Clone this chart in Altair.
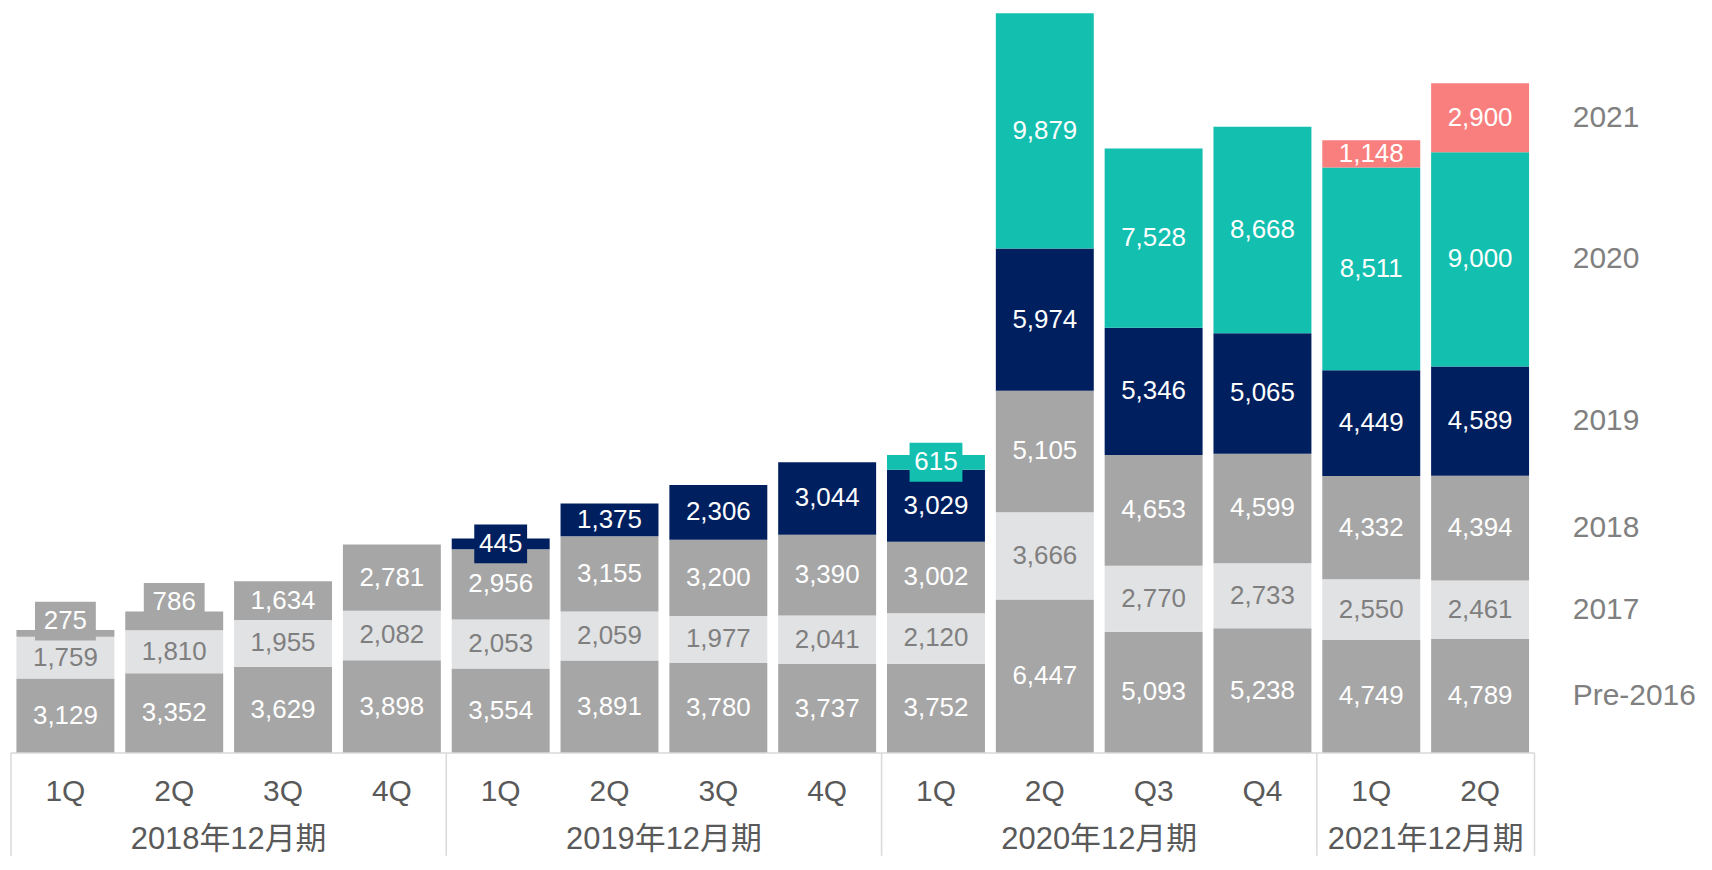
import altair as alt
import pandas as pd

# ---------------- data ----------------
quarters = ["1Q", "2Q", "3Q", "4Q", "1Q", "2Q", "3Q", "4Q", "1Q", "2Q", "Q3", "Q4", "1Q", "2Q"]
periods = (["2018年12月期"] * 4 + ["2019年12月期"] * 4 +
           ["2020年12月期"] * 4 + ["2021年12月期"] * 2)

series_names = ["Pre-2016", "2017", "2018", "2019", "2020", "2021"]
pre2016 = [3129, 3352, 3629, 3898, 3554, 3891, 3780, 3737, 3752, 6447, 5093, 5238, 4749, 4789]
s2017 = [1759, 1810, 1955, 2082, 2053, 2059, 1977, 2041, 2120, 3666, 2770, 2733, 2550, 2461]
s2018 = [275, 786, 1634, 2781, 2956, 3155, 3200, 3390, 3002, 5105, 4653, 4599, 4332, 4394]
s2019 = [None, None, None, None, 445, 1375, 2306, 3044, 3029, 5974, 5346, 5065, 4449, 4589]
s2020 = [None] * 8 + [615, 9879, 7528, 8668, 8511, 9000]
s2021 = [None] * 12 + [1148, 2900]

series_colors = ["#A6A6A6", "#E1E2E4", "#A6A6A6", "#001F5F", "#13BFAF", "#F87F7E"]

# ---------------- build table ----------------
all_vals = [pre2016, s2017, s2018, s2019, s2020, s2021]
rows = []
totals = []
for i in range(len(quarters)):
    base = 0
    for name, vals in zip(series_names, all_vals):
        v = vals[i]
        if v is None:
            continue
        rows.append(dict(idx=i, left=i - 0.45, right=i + 0.45, series=name, value=v,
                         start=base, end=base + v, mid=base + v / 2, label=f"{v:,}"))
        base += v
    totals.append(base)
df = pd.DataFrame(rows)

n = len(quarters)
PLOT_H = 845
BAR_H = 742
ymax = max(totals)
ymin = -ymax * (PLOT_H - BAR_H) / BAR_H

xs = alt.Scale(domain=[-0.5, n - 0.5], nice=False, zero=False)
ys = alt.Scale(domain=[ymin, ymax], nice=False, zero=False)
cs = alt.Scale(domain=series_names, range=series_colors)

FONT = "Liberation Sans, Arial, Noto Sans CJK JP"

X = lambda f: alt.X(f, scale=xs, axis=None)
Y = lambda f: alt.Y(f, scale=ys, axis=None)

bars = alt.Chart(df).mark_bar().encode(
    x=X("left:Q"),
    x2="right:Q",
    y=Y("start:Q"),
    y2="end:Q",
    color=alt.Color("series:N", scale=cs, legend=None),
)

inner = df[df.value >= 1000]
inner_labels = alt.Chart(inner).mark_text(fontSize=26, font=FONT, baseline="middle").encode(
    x=X("idx:Q"),
    y=Y("mid:Q"),
    text="label:N",
    color=alt.condition(alt.datum.series == "2017", alt.value("#7F7F7F"), alt.value("white")),
)

small = df[df.value < 1000]
small_gray = small[small.series == "2018"]
small_col = small[small.series != "2018"]

box_gray = alt.Chart(small_gray).mark_point(
    shape="M-1,-0.64H1V0.64H-1Z", size=61 * 61, filled=True, opacity=1, strokeWidth=0, yOffset=-9,
    color="#A6A6A6"
).encode(
    x=X("idx:Q"),
    y=Y("end:Q"),
)
text_gray = alt.Chart(small_gray).mark_text(
    fontSize=26, font=FONT, baseline="middle", color="white", yOffset=-9
).encode(
    x=X("idx:Q"),
    y=Y("end:Q"),
    text="label:N",
)
box_col = alt.Chart(small_col).mark_point(
    shape="M-1,-0.736H1V0.736H-1Z", size=53 * 53, filled=True, opacity=1, strokeWidth=0
).encode(
    x=X("idx:Q"),
    y=Y("mid:Q"),
    fill=alt.Fill("series:N", scale=cs, legend=None),
)
text_col = alt.Chart(small_col).mark_text(
    fontSize=26, font=FONT, baseline="middle", color="white"
).encode(
    x=X("idx:Q"),
    y=Y("mid:Q"),
    text="label:N",
)

# ---------------- category frame ----------------
group_names = list(dict.fromkeys(periods))
group_first = [periods.index(g) for g in group_names]
group_count = [periods.count(g) for g in group_names]
seps = pd.DataFrame({"x": [f - 0.5 for f in group_first] + [n - 0.5]})
seps["top"] = 0
seps["bot"] = ymin
base_df = pd.DataFrame({"x0": [-0.5], "x1": [n - 0.5], "y0": [0]})
groups = pd.DataFrame({"name": group_names,
                       "center": [f + (c - 1) / 2 for f, c in zip(group_first, group_count)]})
groups["y0"] = 0
qdf = pd.DataFrame({"idx": list(range(n)), "q": quarters})
qdf["y0"] = 0

baseline_rule = alt.Chart(base_df).mark_rule(color="#D9D9D9", strokeWidth=1.5).encode(
    x=X("x0:Q"), x2="x1:Q", y=Y("y0:Q"),
)
sep_rules = alt.Chart(seps).mark_rule(color="#D9D9D9", strokeWidth=1.5).encode(
    x=X("x:Q"), y=Y("top:Q"), y2="bot:Q",
)
q_labels = alt.Chart(qdf).mark_text(fontSize=30, font=FONT, color="#595959",
                                    baseline="middle", dy=39).encode(
    x=X("idx:Q"), y=Y("y0:Q"), text="q:N",
)
g_labels = alt.Chart(groups).mark_text(fontSize=31, font=FONT, color="#595959",
                                       baseline="middle", dy=87).encode(
    x=X("center:Q"), y=Y("y0:Q"), text="name:N",
)

# ---------------- right-hand legend ----------------
last = df[df.idx == n - 1]
legend_txt = alt.Chart(last).mark_text(fontSize=30, font=FONT, color="#808080",
                                       align="left", baseline="middle", dx=93).encode(
    x=X("idx:Q"), y=Y("mid:Q"), text="series:N",
)

chart = alt.layer(
    bars, baseline_rule, sep_rules, inner_labels, box_gray, text_gray, box_col, text_col,
    q_labels, g_labels, legend_txt
).properties(
    width=1528, height=PLOT_H,
    padding={"left": 3, "top": 4, "right": 170, "bottom": 0},
    autosize=alt.AutoSizeParams(type="none"),
).configure_view(stroke=None)

chart.save("out.html", embed_options={"renderer": "svg", "actions": False})
